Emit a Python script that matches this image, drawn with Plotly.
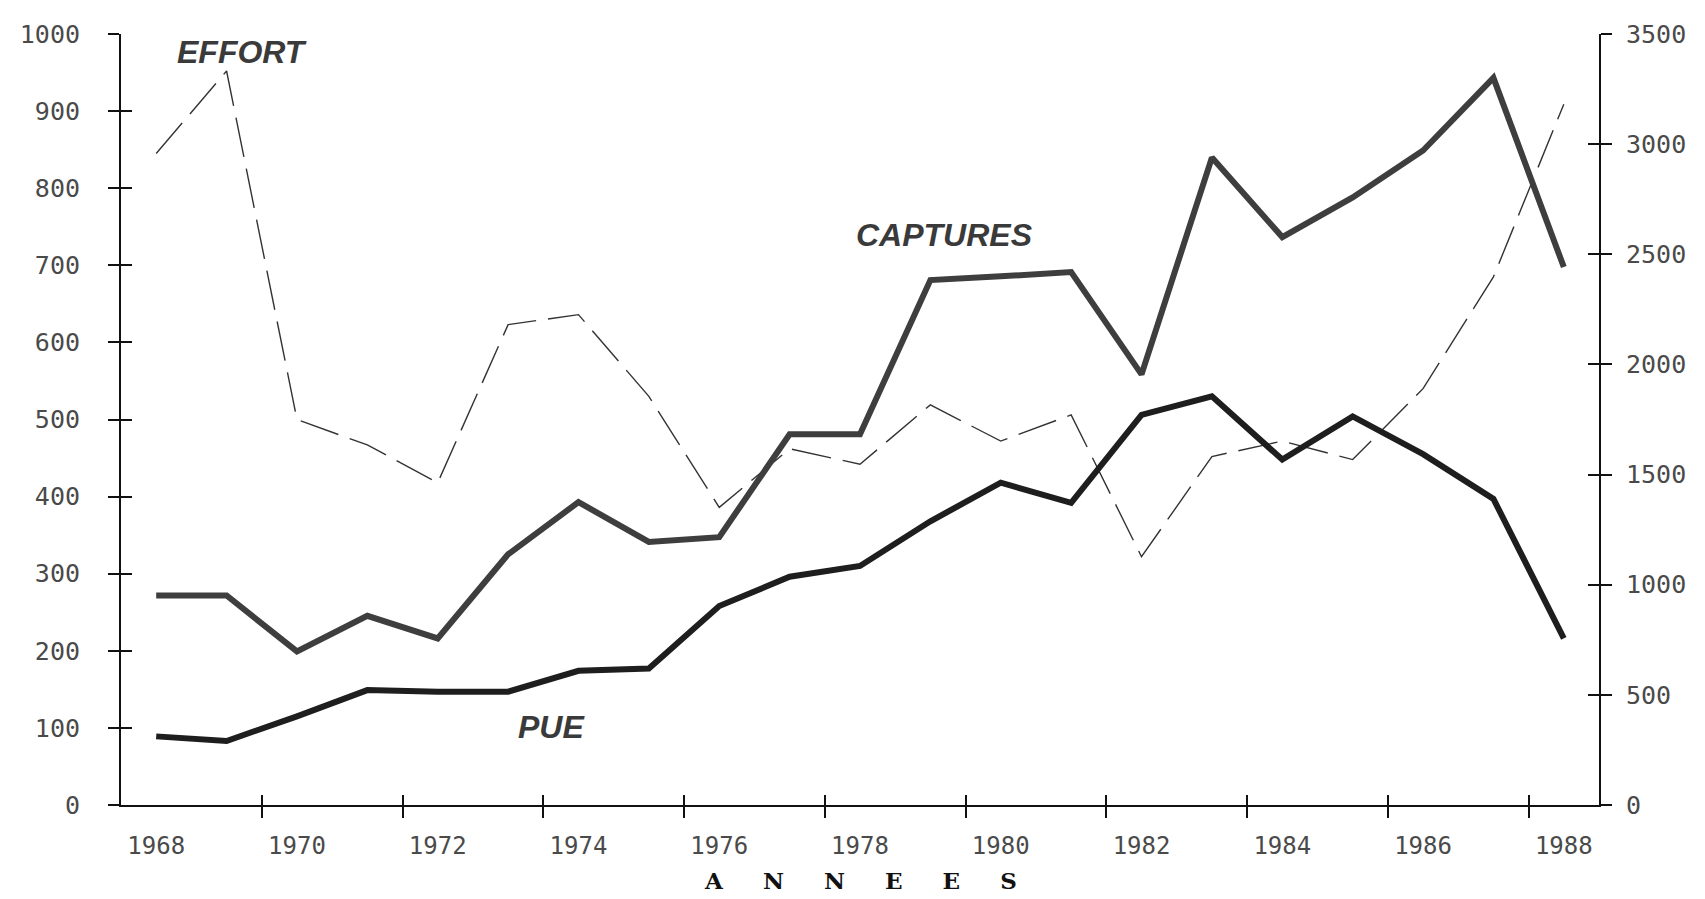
import plotly.graph_objects as go

years = list(range(1968, 1989))
captures = [951, 951, 697, 859, 756, 1138, 1375, 1194, 1216, 1683, 1683,
            2383, 2400, 2419, 1955, 2939, 2578, 2758, 2971, 3301, 2442]
pue = [89, 83, 115, 149, 147, 147, 174, 177, 258, 296, 310,
       368, 418, 392, 506, 530, 448, 504, 455, 397, 216]
effort = [845, 952, 500, 467, 418, 623, 636, 530, 386, 462, 442,
          519, 472, 506, 322, 452, 472, 448, 540, 685, 909]

label_years = list(range(1968, 1989, 2))
boundary_ticks = [y - 0.5 for y in range(1970, 1989, 2)]
left_ticks = list(range(0, 1001, 100))
right_ticks = list(range(0, 3501, 500))

series_labels = [("EFFORT", 1969.22, 977, "y"),
                 ("CAPTURES", 1979.2, 739, "y"),
                 ("PUE", 1973.62, 101, "y")]

tick_font = dict(family="DejaVu Sans Mono", size=25, color="#4a4a4a")
xtick_font = dict(family="DejaVu Sans Mono", size=24, color="#4a4a4a")
XR = [1967.5, 1988.5]

fig = go.Figure()
fig.add_trace(go.Scatter(x=years, y=effort, mode="lines", name="EFFORT",
                         line=dict(color="#333", width=1.4, dash="40px,12px"),
                         xaxis="x", yaxis="y"))
fig.add_trace(go.Scatter(x=years, y=captures, mode="lines", name="CAPTURES",
                         line=dict(color="#3e3e3e", width=6),
                         xaxis="x", yaxis="y2"))
fig.add_trace(go.Scatter(x=years, y=pue, mode="lines", name="PUE",
                         line=dict(color="#1e1e1e", width=6),
                         xaxis="x", yaxis="y"))
# empty traces to materialise the tick-only overlay axes
for xa, ya in [("x2", "y"), ("x3", "y"), ("x", "y3"), ("x", "y4")]:
    fig.add_trace(go.Scatter(x=[], y=[], xaxis=xa, yaxis=ya, showlegend=False,
                             hoverinfo="skip"))

for text, xv, yv, yref in series_labels:
    fig.add_annotation(x=xv, y=yv, xref="x", yref=yref, text=text, showarrow=False,
                       font=dict(family="Liberation Sans", size=32, color="#3a3a3a",
                                 style="italic", weight="bold"))

nb = "\u00a0" * 5
fig.add_annotation(x=0.5, y=-0.098, xref="paper", yref="paper",
                   text="<b>" + nb.join(list("ANNEES")) + "</b>", showarrow=False,
                   yanchor="middle",
                   font=dict(family="DejaVu Serif", size=23, color="#111"))

axis_common = dict(showgrid=False, zeroline=False)
fig.update_layout(
    width=1705, height=899,
    paper_bgcolor="white", plot_bgcolor="white",
    showlegend=False,
    margin=dict(l=107, r=114, t=23, b=102),
    xaxis=dict(range=XR, tickmode="array", tickvals=label_years,
               ticktext=[str(y) for y in label_years], ticks="",
               showline=True, linecolor="#111", linewidth=2,
               tickfont=xtick_font, ticklabelstandoff=18, **axis_common),
    xaxis2=dict(range=XR, overlaying="x", anchor="y", side="bottom",
                tickmode="array", tickvals=boundary_ticks, ticks="outside",
                ticklen=12, tickwidth=2, tickcolor="#111",
                showticklabels=False, showline=False, **axis_common),
    xaxis3=dict(range=XR, overlaying="x", anchor="y", side="bottom",
                tickmode="array", tickvals=boundary_ticks, ticks="inside",
                ticklen=10, tickwidth=2, tickcolor="#111",
                showticklabels=False, showline=False, **axis_common),
    yaxis=dict(range=[0, 1000], tickmode="array", tickvals=left_ticks,
               ticks="outside", ticklen=11, tickwidth=1.5, tickcolor="#111",
               showline=True, linecolor="#111", linewidth=2,
               tickfont=tick_font, ticklabelstandoff=23, **axis_common),
    yaxis2=dict(range=[0, 3500], overlaying="y", side="right", anchor="x",
                tickmode="array", tickvals=right_ticks,
                ticks="outside", ticklen=11, tickwidth=1.5, tickcolor="#111",
                showline=True, linecolor="#111", linewidth=2,
                tickfont=tick_font, ticklabelstandoff=9, **axis_common),
    yaxis3=dict(range=[0, 1000], overlaying="y", side="left", anchor="x",
                tickmode="array", tickvals=left_ticks, ticks="inside",
                ticklen=11, tickwidth=1.5, tickcolor="#111",
                showticklabels=False, showline=False, **axis_common),
    yaxis4=dict(range=[0, 3500], overlaying="y", side="right", anchor="x",
                tickmode="array", tickvals=right_ticks, ticks="inside",
                ticklen=11, tickwidth=1.5, tickcolor="#111",
                showticklabels=False, showline=False, **axis_common),
)

fig.write_html("out.html")
